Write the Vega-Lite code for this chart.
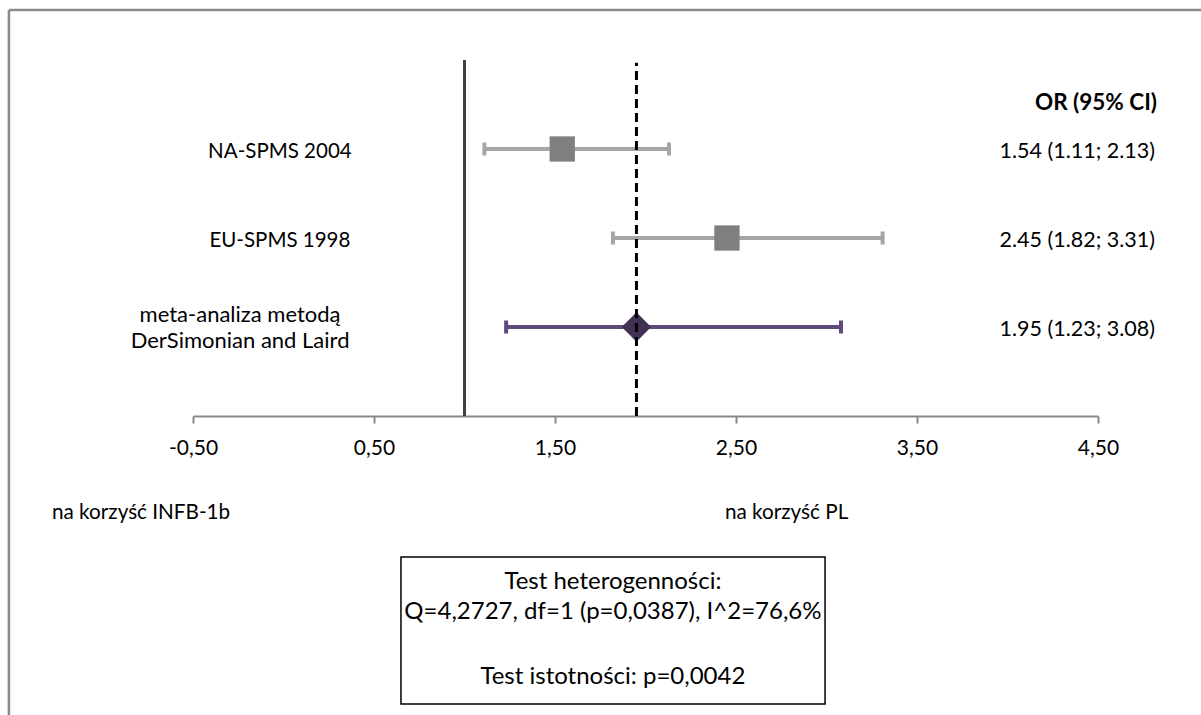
{
  "$schema": "https://vega.github.io/schema/vega-lite/v6.json",
  "width": 905,
  "height": 416,
  "autosize": {"type": "none"},
  "padding": {"left": 193, "right": 103, "top": 0, "bottom": 299},
  "background": "white",
  "config": {
    "view": {"stroke": null},
    "font": "Lato",
    "axisX": {"domainColor": "#878787", "domainWidth": 2, "tickColor": "#878787", "tickWidth": 2, "tickSize": 7,
      "labelFontSize": 21, "labelColor": "#000000", "labelFont": "Lato", "labelPadding": 14, "labelFlush": false, "labelOverlap": false, "grid": false},
    "axisY": {"domain": false, "ticks": false, "labels": false, "grid": false}
  },
  "datasets": {
    "studies": [
      {"label": "NA-SPMS 2004", "est": 1.54, "lo": 1.11, "hi": 2.13, "y": 3, "ortext": "1.54 (1.11; 2.13)", "kind": "study"},
      {"label": "EU-SPMS 1998", "est": 2.45, "lo": 1.82, "hi": 3.31, "y": 2, "ortext": "2.45 (1.82; 3.31)", "kind": "study"},
      {"label": "meta-analiza  metodą\nDerSimonian and Laird", "est": 1.95, "lo": 1.23, "hi": 3.08, "y": 1, "ortext": "1.95 (1.23; 3.08)", "kind": "meta"}
    ],
    "frame": [
      {"x": -1.517, "x2": 5.069, "y": 4.562, "y2": 4.562},
      {"x": -1.517, "x2": -1.517, "y": 4.562, "y2": -3.36}
    ],
    "nullline": [{"x": 1, "y": 0, "y2": 4.0}],
    "pooled": [{"x": 1.95, "y": 0, "y2": 3.97}],
    "header": [{"x": 4.826, "y": 3.551, "text": "OR (95% CI)"}],
    "sides": [
      {"x": -1.279, "y": -1.056, "text": "na korzyść INFB-1b"},
      {"x": 2.439, "y": -1.056, "text": "na korzyść PL"}
    ],
    "box": [{"x": 0.649, "x2": 2.992, "y": -1.584, "y2": -3.236}],
    "boxtext": [
      {"x": 1.82, "y": -1.865, "text": "Test heterogenności:"},
      {"x": 1.82, "y": -2.202, "text": "Q=4,2727, df=1 (p=0,0387), I^2=76,6%"},
      {"x": 1.82, "y": -2.933, "text": "Test istotności: p=0,0042"}
    ]
  },
  "layer": [
    {
      "data": {"name": "studies"},
      "mark": {"type": "rule", "strokeWidth": 4},
      "encoding": {
        "x": {"field": "lo", "type": "quantitative", "title": null, "scale": {"domain": [-0.5, 4.5], "nice": false, "zero": false},
          "axis": {"values": [-0.5, 0.5, 1.5, 2.5, 3.5, 4.5], "labelExpr": "replace(replace(format(datum.value, '.2f'), '.', ','), '\u2212', '-')", "title": null}},
        "x2": {"field": "hi"},
        "y": {"field": "y", "type": "quantitative", "title": null, "scale": {"domain": [0, 4.674], "nice": false, "zero": false}},
        "color": {"field": "kind", "type": "nominal", "scale": {"domain": ["study", "meta"], "range": ["#a6a6a6", "#604a7b"]}, "legend": null}
      }
    },
    {
      "data": {"name": "frame"},
      "mark": {"type": "rule", "color": "#8a8a8a", "strokeWidth": 2.5},
      "encoding": {
        "x": {"field": "x", "type": "quantitative", "title": null, "scale": {"domain": [-0.5, 4.5], "nice": false, "zero": false}},
        "x2": {"field": "x2"},
        "y": {"field": "y", "type": "quantitative", "title": null, "scale": {"domain": [0, 4.674], "nice": false, "zero": false}},
        "y2": {"field": "y2"}
      }
    },
    {
      "data": {"name": "nullline"},
      "mark": {"type": "rule", "color": "#404040", "strokeWidth": 3},
      "encoding": {
        "x": {"field": "x", "type": "quantitative", "title": null, "scale": {"domain": [-0.5, 4.5], "nice": false, "zero": false}},
        "y": {"field": "y", "type": "quantitative", "title": null, "scale": {"domain": [0, 4.674], "nice": false, "zero": false}},
        "y2": {"field": "y2"}
      }
    },
    {
      "data": {"name": "studies"},
      "transform": [{"fold": ["lo", "hi"], "as": ["end", "val"]}],
      "mark": {"type": "tick", "orient": "vertical", "size": 13, "thickness": 4, "opacity": 1},
      "encoding": {
        "x": {"field": "val", "type": "quantitative", "title": null, "scale": {"domain": [-0.5, 4.5], "nice": false, "zero": false}},
        "y": {"field": "y", "type": "quantitative", "title": null, "scale": {"domain": [0, 4.674], "nice": false, "zero": false}},
        "color": {"field": "kind", "type": "nominal", "scale": {"domain": ["study", "meta"], "range": ["#a6a6a6", "#604a7b"]}, "legend": null}
      }
    },
    {
      "data": {"name": "studies"},
      "transform": [{"filter": "datum.kind === 'study'"}],
      "mark": {"type": "point", "shape": "square", "size": 640, "filled": true, "color": "#7f7f7f", "opacity": 1},
      "encoding": {
        "x": {"field": "est", "type": "quantitative", "title": null, "scale": {"domain": [-0.5, 4.5], "nice": false, "zero": false}},
        "y": {"field": "y", "type": "quantitative", "title": null, "scale": {"domain": [0, 4.674], "nice": false, "zero": false}}
      }
    },
    {
      "data": {"name": "studies"},
      "transform": [{"filter": "datum.kind === 'meta'"}],
      "mark": {"type": "point", "shape": "diamond", "size": 860, "filled": true, "color": "#403152", "opacity": 1},
      "encoding": {
        "x": {"field": "est", "type": "quantitative", "title": null, "scale": {"domain": [-0.5, 4.5], "nice": false, "zero": false}},
        "y": {"field": "y", "type": "quantitative", "title": null, "scale": {"domain": [0, 4.674], "nice": false, "zero": false}}
      }
    },
    {
      "data": {"name": "pooled"},
      "mark": {"type": "rule", "color": "#000000", "strokeWidth": 3, "strokeDash": [9, 5]},
      "encoding": {
        "x": {"field": "x", "type": "quantitative", "title": null, "scale": {"domain": [-0.5, 4.5], "nice": false, "zero": false}},
        "y": {"field": "y", "type": "quantitative", "title": null, "scale": {"domain": [0, 4.674], "nice": false, "zero": false}},
        "y2": {"field": "y2"}
      }
    },
    {
      "data": {"name": "studies"},
      "transform": [{"filter": "datum.kind === 'study'"}],
      "mark": {"type": "text", "align": "center", "baseline": "middle", "fontSize": 20.5, "font": "Lato", "color": "#000000", "dy": 3},
      "encoding": {
        "x": {"datum": -0.02, "type": "quantitative", "title": null, "scale": {"domain": [-0.5, 4.5], "nice": false, "zero": false}},
        "y": {"field": "y", "type": "quantitative", "title": null, "scale": {"domain": [0, 4.674], "nice": false, "zero": false}},
        "text": {"field": "label"}
      }
    },
    {
      "data": {"name": "studies"},
      "transform": [{"filter": "datum.kind === 'meta'"}],
      "mark": {"type": "text", "align": "center", "baseline": "middle", "fontSize": 22, "font": "Lato", "color": "#000000", "lineBreak": "\n", "lineHeight": 26, "dy": -12},
      "encoding": {
        "x": {"datum": -0.24, "type": "quantitative", "title": null, "scale": {"domain": [-0.5, 4.5], "nice": false, "zero": false}},
        "y": {"field": "y", "type": "quantitative", "title": null, "scale": {"domain": [0, 4.674], "nice": false, "zero": false}},
        "text": {"field": "label"}
      }
    },
    {
      "data": {"name": "studies"},
      "mark": {"type": "text", "align": "right", "baseline": "middle", "fontSize": 21.5, "font": "Lato", "color": "#000000", "dy": 3},
      "encoding": {
        "x": {"datum": 4.815, "type": "quantitative", "title": null, "scale": {"domain": [-0.5, 4.5], "nice": false, "zero": false}},
        "y": {"field": "y", "type": "quantitative", "title": null, "scale": {"domain": [0, 4.674], "nice": false, "zero": false}},
        "text": {"field": "ortext"}
      }
    },
    {
      "data": {"name": "header"},
      "mark": {"type": "text", "align": "right", "baseline": "middle", "fontSize": 22.5, "font": "Lato", "fontWeight": "bold", "color": "#000000", "dy": 3},
      "encoding": {
        "x": {"field": "x", "type": "quantitative", "title": null, "scale": {"domain": [-0.5, 4.5], "nice": false, "zero": false}},
        "y": {"field": "y", "type": "quantitative", "title": null, "scale": {"domain": [0, 4.674], "nice": false, "zero": false}},
        "text": {"field": "text"}
      }
    },
    {
      "data": {"name": "sides"},
      "mark": {"type": "text", "align": "left", "baseline": "middle", "fontSize": 20.7, "font": "Lato", "color": "#000000", "dy": 3},
      "encoding": {
        "x": {"field": "x", "type": "quantitative", "title": null, "scale": {"domain": [-0.5, 4.5], "nice": false, "zero": false}},
        "y": {"field": "y", "type": "quantitative", "title": null, "scale": {"domain": [0, 4.674], "nice": false, "zero": false}},
        "text": {"field": "text"}
      }
    },
    {
      "data": {"name": "box"},
      "mark": {"type": "rect", "fill": null, "stroke": "#000000", "strokeWidth": 1.5},
      "encoding": {
        "x": {"field": "x", "type": "quantitative", "title": null, "scale": {"domain": [-0.5, 4.5], "nice": false, "zero": false}},
        "x2": {"field": "x2"},
        "y": {"field": "y", "type": "quantitative", "title": null, "scale": {"domain": [0, 4.674], "nice": false, "zero": false}},
        "y2": {"field": "y2"}
      }
    },
    {
      "data": {"name": "boxtext"},
      "mark": {"type": "text", "align": "center", "baseline": "middle", "fontSize": 24, "font": "Lato", "color": "#000000"},
      "encoding": {
        "x": {"field": "x", "type": "quantitative", "title": null, "scale": {"domain": [-0.5, 4.5], "nice": false, "zero": false}},
        "y": {"field": "y", "type": "quantitative", "title": null, "scale": {"domain": [0, 4.674], "nice": false, "zero": false}},
        "text": {"field": "text"}
      }
    }
  ]
}
